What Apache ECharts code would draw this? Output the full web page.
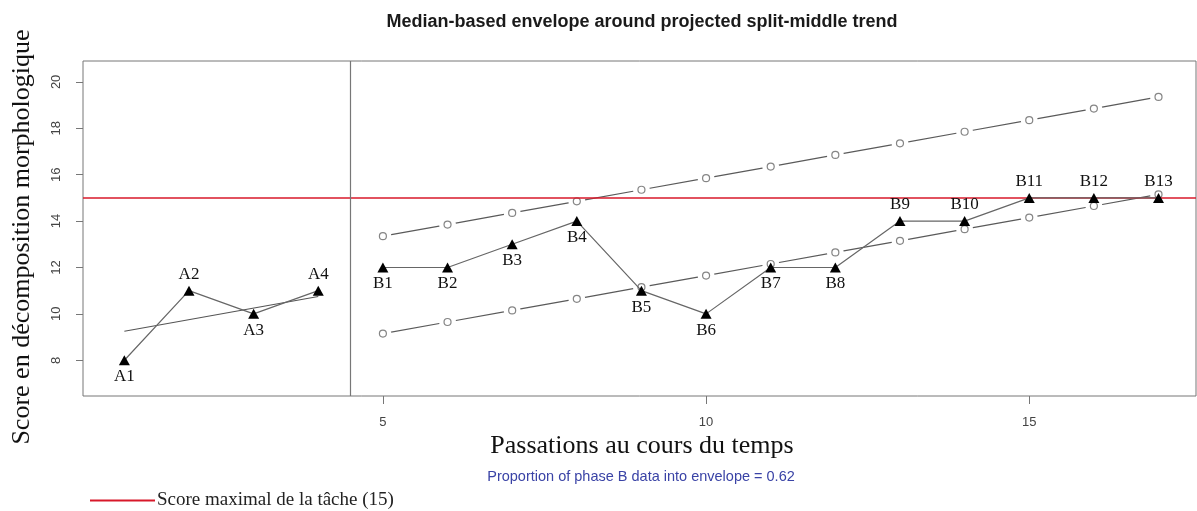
<!DOCTYPE html>
<html>
<head>
<meta charset="utf-8">
<script src="https://cdn.jsdelivr.net/npm/echarts@6/dist/echarts.min.js"></script>
<style>
html,body{margin:0;padding:0;background:#fff;}
#chart{width:1197px;height:511px;}
</style>
</head>
<body>
<div id="chart"></div>
<script>
// ---- data ----
const categoriesA = ['A1', 'A2', 'A3', 'A4'];
const xA = [1, 2, 3, 4];
const scoresA = [8, 11, 10, 11];
const labelPosA = ['bottom', 'top', 'bottom', 'top'];

const categoriesB = ['B1', 'B2', 'B3', 'B4', 'B5', 'B6', 'B7', 'B8', 'B9', 'B10', 'B11', 'B12', 'B13'];
const xB = [5, 6, 7, 8, 9, 10, 11, 12, 13, 14, 15, 16, 17];
const scoresB = [12, 12, 13, 14, 11, 10, 12, 12, 14, 14, 15, 15, 15];
const labelPosB = ['bottom', 'bottom', 'bottom', 'bottom', 'bottom', 'bottom', 'bottom', 'bottom', 'top', 'top', 'top', 'top', 'top'];

const trendX = [1, 4];
const trendY = [9.25, 10.75];

const envelopeUpper = [13.35, 13.85, 14.35, 14.85, 15.35, 15.85, 16.35, 16.85, 17.35, 17.85, 18.35, 18.85, 19.35];
const envelopeLower = [9.15, 9.65, 10.15, 10.65, 11.15, 11.65, 12.15, 12.65, 13.15, 13.65, 14.15, 14.65, 15.15];

const maxScore = 15;
const phaseDivider = 4.5;
const yTicks = [8, 10, 12, 14, 16, 18, 20];
const xTicks = [5, 10, 15];

const titleText = 'Median-based envelope around projected split-middle trend';
const subtitleText = 'Proportion of phase B data into envelope = 0.62';
const xName = 'Passations au cours du temps';
const yName = 'Score en décomposition morphologique';
const legendName = 'Score maximal de la tâche (15)';

// ---- chart ----
const chart = echarts.init(document.getElementById('chart'), null, {renderer: 'canvas'});
const SERIF = 'Liberation Serif';
const SANS = 'Liberation Sans';
const GREY = '#5a5a5a';

function pts(xs, ys) { return xs.map((x, i) => [x, ys[i]]); }

function labelled(xs, ys, names, pos) {
  return xs.map((x, i) => ({
    value: [x, ys[i]],
    name: names[i],
    label: {position: pos[i]}
  }));
}

const pointLabel = {
  show: true,
  formatter: p => p.name,
  fontFamily: SERIF,
  fontSize: 17,
  color: '#111',
  distance: 3
};

function envelopeSeries(vals) {
  return [
    { // line with white masks (gaps around points, like R type="b")
      type: 'line',
      data: pts(xB, vals),
      z: 2,
      symbol: 'circle',
      symbolSize: 17,
      itemStyle: {color: '#fff', borderWidth: 0},
      lineStyle: {color: GREY, width: 1.2},
      silent: true,
      animation: false
    },
    {
      type: 'scatter',
      data: pts(xB, vals),
      z: 4,
      symbol: 'circle',
      symbolSize: 7,
      itemStyle: {color: '#fff', borderColor: '#666', borderWidth: 1.2},
      animation: false
    }
  ];
}

const option = {
  animation: false,
  backgroundColor: '#fff',
  grid: {
    left: 83, right: 1, top: 61, height: 335,
    show: true, borderColor: '#777', borderWidth: 1, backgroundColor: 'transparent'
  },
  xAxis: {
    type: 'value',
    min: 0.36, max: 17.58,
    splitLine: {show: false},
    axisLine: {show: false},
    axisTick: {show: true, inside: false, length: 8, customValues: xTicks, lineStyle: {color: '#777'}},
    axisLabel: {show: true, customValues: xTicks, margin: 20, fontFamily: SANS, fontSize: 13, color: '#444'}
  },
  yAxis: {
    type: 'value',
    min: 6.46, max: 20.9,
    splitLine: {show: false},
    axisLine: {show: false},
    axisTick: {show: true, inside: false, length: 7, customValues: yTicks, lineStyle: {color: '#777'}},
    axisLabel: {show: true, customValues: yTicks, rotate: 90, margin: 20, fontFamily: SANS, fontSize: 13, color: '#444'}
  },
  legend: {
    left: 85, top: 486,
    icon: 'rect',
    itemWidth: 65, itemHeight: 2,
    itemGap: 10,
    textStyle: {fontFamily: SERIF, fontSize: 19, color: '#222', padding: [0, 0, 0, -3]},
    data: [legendName]
  },
  graphic: [
    {type: 'text', x: 642, y: 22,
      style: {text: titleText, font: 'bold 18px "Liberation Sans"', fill: '#1a1a1a', align: 'center', verticalAlign: 'middle'}},
    {type: 'text', x: 642, y: 446,
      style: {text: xName, font: '26px "Liberation Serif"', fill: '#111', align: 'center', verticalAlign: 'middle'}},
    {type: 'text', x: 641, y: 477,
      style: {text: subtitleText, font: '14.5px "Liberation Sans"', fill: '#3a43a6', align: 'center', verticalAlign: 'middle'}},
    {type: 'text', x: 22, y: 237, rotation: Math.PI / 2,
      style: {text: yName, font: '26px "Liberation Serif"', fill: '#111', align: 'center', verticalAlign: 'middle'}}
  ],
  series: [
    ...envelopeSeries(envelopeUpper),
    ...envelopeSeries(envelopeLower),
    { // max score line + phase divider
      name: legendName,
      type: 'line',
      data: [],
      z: 3,
      color: '#d8192a',
      lineStyle: {color: '#d8192a', width: 1.5},
      markLine: {
        silent: true,
        symbol: ['none', 'none'],
        label: {show: false},
        data: [
          {yAxis: maxScore, lineStyle: {color: '#d8192a', width: 1.6, type: 'solid'}},
          {xAxis: phaseDivider, lineStyle: {color: '#777', width: 1.2, type: 'solid'}}
        ]
      }
    },
    { // split-middle trend, phase A
      type: 'line',
      data: pts(trendX, trendY),
      z: 5,
      symbol: 'none',
      lineStyle: {color: '#555', width: 1.2}
    },
    {
      type: 'line',
      data: labelled(xA, scoresA, categoriesA, labelPosA),
      z: 6,
      symbol: 'triangle',
      symbolSize: [11, 10],
      itemStyle: {color: '#000'},
      lineStyle: {color: '#666', width: 1.2},
      label: pointLabel
    },
    {
      type: 'line',
      data: labelled(xB, scoresB, categoriesB, labelPosB),
      z: 6,
      symbol: 'triangle',
      symbolSize: [11, 10],
      itemStyle: {color: '#000'},
      lineStyle: {color: '#666', width: 1.2},
      label: pointLabel
    }
  ]
};
chart.setOption(option);
</script>
</body>
</html>
